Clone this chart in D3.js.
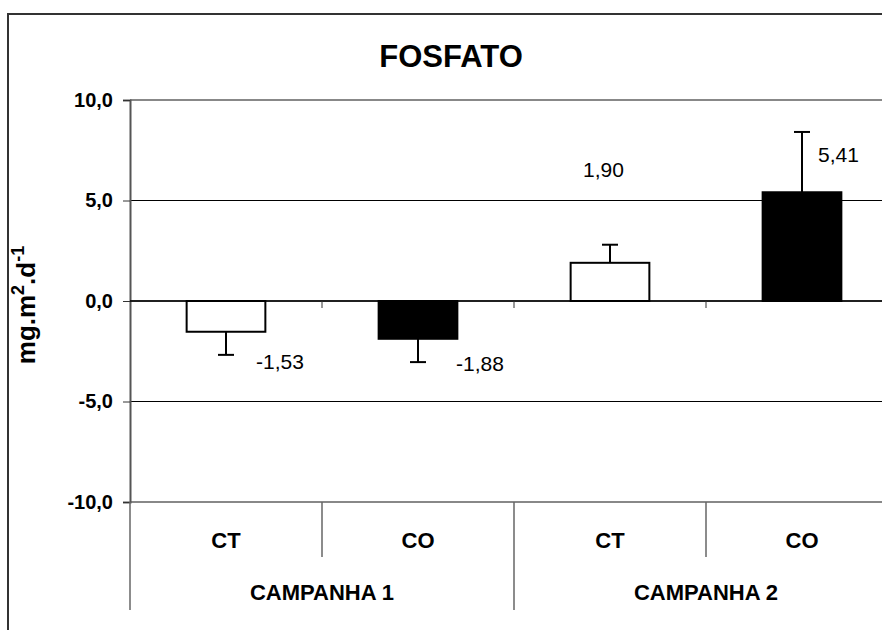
<!DOCTYPE html>
<html>
<head>
<meta charset="utf-8">
<script src="https://cdn.jsdelivr.net/npm/d3@7"></script>
<style>
  body { margin: 0; background: #fff; }
  text { font-family: "Liberation Sans", Arial, sans-serif; }
</style>
</head>
<body>
<div id="chart"></div>
<script>
// data
var categories = ["CT", "CO", "CT", "CO"];
var campaigns = ["CAMPANHA 1", "CAMPANHA 2"];
var values = [-1.53, -1.88, 1.90, 5.41];
var errors = [1.15, 1.16, 0.90, 3.00];
var valueLabels = ["-1,53", "-1,88", "1,90", "5,41"];
var yTicks = [-10, -5, 0, 5, 10];
var tickLabels = ["-10,0", "-5,0", "0,0", "5,0", "10,0"];

var w = 882, h = 630;
var plotLeft = 130, plotRight = 898, plotTop = 100, plotBottom = 502;

var svg = d3.select("#chart").append("svg")
    .attr("width", w)
    .attr("height", h);

// outer frame
svg.append("rect")
    .attr("x", 8).attr("y", 14)
    .attr("width", w + 20).attr("height", h + 20)
    .attr("fill", "none")
    .attr("stroke", "#333")
    .attr("stroke-width", 2);

var x = d3.scaleBand()
    .domain(d3.range(categories.length))
    .range([plotLeft, plotRight]);

var y = d3.scaleLinear()
    .domain([-10, 10])
    .range([plotBottom, plotTop]);

var barW = x.bandwidth() * 0.41;

// gridlines
svg.selectAll("line.grid")
    .data(yTicks)
    .enter()
    .append("line")
    .attr("class", "grid")
    .attr("x1", plotLeft).attr("x2", w)
    .attr("y1", function(d) { return y(d); })
    .attr("y2", function(d) { return y(d); })
    .attr("stroke", function(d) { return (d == 10 || d == -10) ? "#888" : "#000"; })
    .attr("stroke-width", function(d) { return (d == 10 || d == -10) ? 2 : 1; });

// y axis
var yAxis = d3.axisLeft(y)
    .tickValues(yTicks)
    .tickSize(7)
    .tickPadding(10)
    .tickFormat(function(d, i) { return tickLabels[i]; });

var gy = svg.append("g")
    .attr("transform", "translate(" + plotLeft + ",0)")
    .call(yAxis);
gy.select(".domain").attr("stroke", "#555").attr("stroke-width", 2);
gy.selectAll(".tick line").attr("stroke", "#333");
gy.selectAll("text")
    .attr("font-family", "Liberation Sans, Arial, sans-serif")
    .attr("font-size", "20px")
    .attr("font-weight", "bold")
    .attr("fill", "#000");

// bars
svg.selectAll("rect.bar")
    .data(values)
    .enter()
    .append("rect")
    .attr("class", "bar")
    .attr("x", function(d, i) { return x(i) + x.bandwidth() / 2 - barW / 2; })
    .attr("y", function(d) { return y(Math.max(0, d)); })
    .attr("width", barW)
    .attr("height", function(d) { return Math.abs(y(d) - y(0)); })
    .attr("fill", function(d, i) { return i % 2 == 0 ? "#fff" : "#000"; })
    .attr("stroke", "#000")
    .attr("stroke-width", 2);

// error bars
function errEnd(d, i) { return y(d + (d < 0 ? -errors[i] : errors[i])); }

var err = svg.selectAll("g.err")
    .data(values)
    .enter()
    .append("g")
    .attr("class", "err");

err.append("line")
    .attr("x1", function(d, i) { return x(i) + x.bandwidth() / 2; })
    .attr("x2", function(d, i) { return x(i) + x.bandwidth() / 2; })
    .attr("y1", function(d) { return y(d); })
    .attr("y2", errEnd)
    .attr("stroke", "#000")
    .attr("stroke-width", 2);

err.append("line")
    .attr("x1", function(d, i) { return x(i) + x.bandwidth() / 2 - 8; })
    .attr("x2", function(d, i) { return x(i) + x.bandwidth() / 2 + 8; })
    .attr("y1", errEnd)
    .attr("y2", errEnd)
    .attr("stroke", "#000")
    .attr("stroke-width", 2);

// zero line + ticks
svg.append("line")
    .attr("x1", plotLeft).attr("x2", w)
    .attr("y1", y(0)).attr("y2", y(0))
    .attr("stroke", "#000")
    .attr("stroke-width", 1.5);

svg.selectAll("line.xtick")
    .data(d3.range(1, categories.length))
    .enter()
    .append("line")
    .attr("class", "xtick")
    .attr("x1", function(d) { return x(d); })
    .attr("x2", function(d) { return x(d); })
    .attr("y1", y(0))
    .attr("y2", y(0) + 7)
    .attr("stroke", "#333");

// value labels (placed as in the original)
var labelDx = [30, 38, -27, 16];
var labelAt = [-3.38, -3.48, 6.17, 6.92];
svg.selectAll("text.val")
    .data(valueLabels)
    .enter()
    .append("text")
    .attr("class", "val")
    .attr("x", function(d, i) { return x(i) + x.bandwidth() / 2 + labelDx[i]; })
    .attr("y", function(d, i) { return y(labelAt[i]); })
    .attr("font-size", "21px")
    .attr("fill", "#000")
    .text(function(d) { return d; });

// category separators
svg.selectAll("line.sep")
    .data(d3.range(0, categories.length + 1))
    .enter()
    .append("line")
    .attr("class", "sep")
    .attr("x1", function(d) { return d < categories.length ? x(d) : plotRight; })
    .attr("x2", function(d) { return d < categories.length ? x(d) : plotRight; })
    .attr("y1", plotBottom)
    .attr("y2", function(d) { return d % 2 == 0 ? 610 : 557; })
    .attr("stroke", "#666")
    .attr("stroke-width", 1.5);

svg.selectAll("text.cat")
    .data(categories)
    .enter()
    .append("text")
    .attr("class", "cat")
    .attr("x", function(d, i) { return x(i) + x.bandwidth() / 2; })
    .attr("y", 548)
    .attr("text-anchor", "middle")
    .attr("font-size", "22px")
    .attr("font-weight", "bold")
    .text(function(d) { return d; });

svg.selectAll("text.camp")
    .data(campaigns)
    .enter()
    .append("text")
    .attr("class", "camp")
    .attr("x", function(d, i) { return x(i * 2) + x.bandwidth(); })
    .attr("y", 600)
    .attr("text-anchor", "middle")
    .attr("font-size", "22px")
    .attr("font-weight", "bold")
    .text(function(d) { return d; });

// title
svg.append("text")
    .attr("x", 451)
    .attr("y", 67)
    .attr("text-anchor", "middle")
    .attr("font-size", "31px")
    .attr("font-weight", "bold")
    .text("FOSFATO");

// y axis title
var yt = svg.append("text")
    .attr("transform", "translate(35," + 305 + ") rotate(-90)")
    .attr("text-anchor", "middle")
    .attr("font-size", "26px")
    .attr("font-weight", "bold");
yt.append("tspan").text("mg.m");
yt.append("tspan").attr("font-size", "18px").attr("dy", -11).text("2");
yt.append("tspan").attr("dy", 11).text(".d");
yt.append("tspan").attr("font-size", "18px").attr("dy", -11).text("-1");
</script>
</body>
</html>
